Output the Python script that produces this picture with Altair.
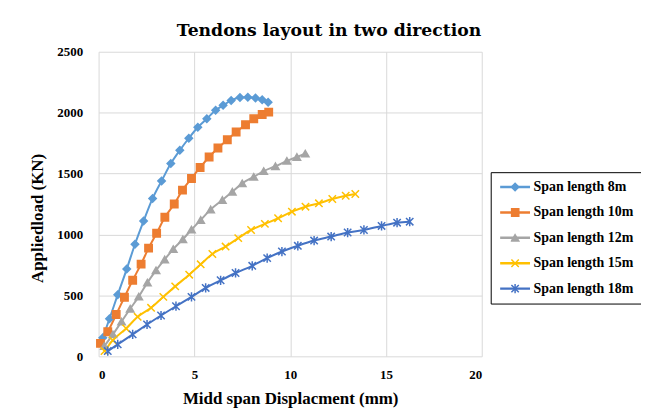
import altair as alt
import pandas as pd

series_names = ["Span length 8m", "Span length 10m", "Span length 12m", "Span length 15m", "Span length 18m"]
series_keys = ["1", "2", "3", "4", "5"]
colors = ["#5B9BD5", "#ED7D31", "#A5A5A5", "#FFC000", "#4472C4"]
shapes = ["diamond", "square", "triangle-up", "M-1,-1L1,1M-1,1L1,-1", "M-1,-1L1,1M-1,1L1,-1M0,-1.25L0,1.25"]

x8 = [0.22, 0.57, 1.0, 1.47, 1.9, 2.35, 2.82, 3.29, 3.77, 4.24, 4.71, 5.18, 5.65, 6.11, 6.5, 6.92, 7.38, 7.79, 8.19, 8.54, 8.85]
y8 = [153, 308, 506, 716, 920, 1110, 1296, 1440, 1582, 1691, 1790, 1880, 1950, 2020, 2060, 2100, 2125, 2127, 2121, 2105, 2085]
x10 = [0.1, 0.48, 0.92, 1.35, 1.78, 2.22, 2.61, 3.03, 3.46, 3.95, 4.38, 4.85, 5.3, 5.77, 6.23, 6.72, 7.18, 7.67, 8.1, 8.54, 8.88]
y10 = [106, 202, 343, 485, 624, 757, 888, 1010, 1141, 1250, 1364, 1460, 1550, 1636, 1710, 1778, 1841, 1901, 1950, 1985, 2004]
x12 = [0.3, 0.75, 1.2, 1.65, 2.1, 2.55, 3.0, 3.45, 3.9, 4.4, 4.85, 5.33, 5.85, 6.46, 6.98, 7.5, 8.1, 8.62, 9.23, 9.83, 10.35, 10.79]
y12 = [84, 180, 285, 390, 490, 605, 705, 795, 880, 960, 1040, 1119, 1205, 1283, 1351, 1420, 1473, 1520, 1560, 1604, 1636, 1664]
x15 = [0.31, 0.74, 1.44, 2.04, 2.74, 3.38, 4.0, 4.73, 5.33, 5.94, 6.63, 7.29, 7.96, 8.68, 9.37, 10.09, 10.8, 11.5, 12.2, 12.9, 13.4]
y15 = [43, 131, 229, 324, 398, 488, 574, 670, 755, 840, 901, 970, 1037, 1087, 1133, 1187, 1228, 1256, 1291, 1318, 1332]
x18 = [0.48, 1.0, 1.78, 2.53, 3.26, 4.04, 4.85, 5.59, 6.37, 7.15, 8.02, 8.8, 9.57, 10.4, 11.25, 12.14, 13.0, 13.85, 14.77, 15.58, 16.24]
y18 = [43, 98, 180, 261, 335, 411, 488, 561, 624, 684, 743, 806, 860, 907, 950, 983, 1016, 1037, 1070, 1097, 1105]

xs = [x8, x10, x12, x15, x18]
ys = [y8, y10, y12, y15, y18]

rows = []
for name, key, xv, yv in zip(series_names, series_keys, xs, ys):
    for i, (a, b) in enumerate(zip(xv, yv)):
        rows.append({"series": name, "key": key, "order": i, "x": a, "y": b})
df = pd.DataFrame(rows)

FONT = "Liberation Serif"

x_enc = alt.X("x:Q", scale=alt.Scale(domain=[0, 20], nice=False),
              axis=alt.Axis(title="Midd span Displacment (mm)", values=[0, 5, 10, 15, 20], format="d",
                            titleY=42, titleBaseline="middle", labelPadding=12))
y_enc = alt.Y("y:Q", scale=alt.Scale(domain=[0, 2500], nice=False),
              axis=alt.Axis(title="Appliedload (KN)", values=[0, 500, 1000, 1500, 2000, 2500], format="d",
                            titleX=-61, titleY=167, titleAngle=270, titleBaseline="middle",
                            titleAlign="center", labelPadding=16))

lines = alt.Chart(df).mark_line(strokeWidth=2, interpolate="monotone").encode(
    x=x_enc, y=y_enc,
    color=alt.Color("series:N", scale=alt.Scale(domain=series_names, range=colors),
                    legend=alt.Legend(title=None, orient="none", legendX=394, legendY=121,
                                      symbolType="stroke", symbolSize=900, symbolStrokeWidth=2.5,
                                      clipHeight=14, rowPadding=11.5, padding=8,
                                      strokeColor="black", labelFont=FONT, labelFontSize=14,
                                      labelFontWeight="bold", labelColor="#000000", labelOffset=2)),
    order="order:Q",
)

points = alt.Chart(df).mark_point(filled=False, size=55, strokeWidth=1.5, opacity=1).encode(
    x="x:Q", y="y:Q",
    shape=alt.Shape("key:N", scale=alt.Scale(domain=series_keys, range=shapes),
                    legend=alt.Legend(title=None, orient="none", legendX=406, legendY=121,
                                      symbolSize=55, symbolStrokeWidth=1.5,
                                      clipHeight=14, rowPadding=11.5, padding=8,
                                      labelFontSize=1, labelExpr="''")),
    stroke=alt.Stroke("key:N", scale=alt.Scale(domain=series_keys, range=colors), legend=None),
    fill=alt.Fill("key:N", scale=alt.Scale(domain=series_keys, range=colors), legend=None),
)

chart = alt.layer(lines, points).properties(
    width=385, height=306,
    background="white",
    autosize=alt.AutoSizeParams(type="none"),
    padding={"left": 91, "top": 43, "right": 160, "bottom": 54},
    title=alt.TitleParams("Tendons layout in two direction", font="DejaVu Serif", fontSize=17.3,
                          fontWeight="bold", color="#000000", anchor="middle", dx=39,
                          offset=7),
).configure_axis(
    labelFont=FONT, labelFontSize=13, labelFontWeight="bold", labelColor="#000000",
    titleFont=FONT, titleFontSize=17, titleFontWeight="bold", titleColor="#000000",
    gridColor="#D9D9D9", gridWidth=1, domain=False, ticks=False, tickSize=0,
).configure_view(stroke=None)

chart.save("out.html", embed_options={"renderer": "svg", "actions": False})
